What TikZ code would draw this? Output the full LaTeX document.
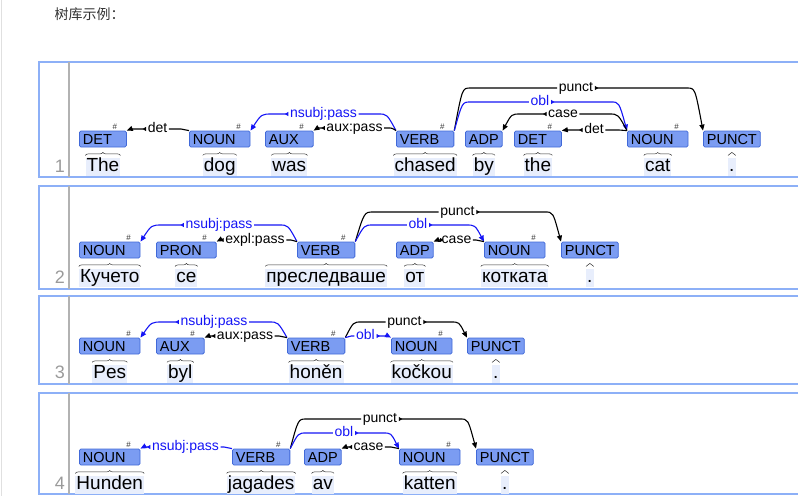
\documentclass[tikz,border=0pt]{standalone}
\usepackage{fontspec}
\setmainfont{Liberation Sans}
\newfontfamily\cjk{Noto Sans CJK SC}
\usetikzlibrary{positioning,arrows.meta,decorations.pathreplacing}
\definecolor{tagfill}{HTML}{7B9CF2}
\definecolor{tagline}{HTML}{4169D8}
\definecolor{wordbg}{HTML}{E8EEFC}
\definecolor{arcblue}{HTML}{1515F5}
\definecolor{panelblue}{HTML}{8DB0F7}
\definecolor{numgray}{HTML}{9A9A9A}

\begin{document}
\begin{tikzpicture}[x=1pt,y=-1pt,
  brat/.style={to path={.. controls ([xshift=#1]\tikztostart |- \tikztotarget) .. ([xshift=2*#1]\tikztostart |- \tikztotarget) -- (\tikztotarget)}}]
\tikzstyle{tag}=[draw=tagline,fill=tagfill,rounded corners=1.5pt,line width=0.8pt,anchor=west,
  font=\fontsize{14.5}{14.5}\selectfont,inner xsep=3.5pt,inner ysep=0pt,minimum height=16pt,text height=10.5pt,text depth=0pt]
\tikzstyle{hashl}=[anchor=center,xshift=-12pt,yshift=4pt,inner sep=0pt,text=black!80,font=\fontsize{8}{8}\selectfont]
\tikzstyle{tagh}=[tag,execute at end node={\hspace*{11pt}},label={[hashl]north east:\#}]
\tikzstyle{word}=[fill=wordbg,inner xsep=1pt,inner ysep=0.5pt,text height=13.5pt,text depth=4pt,font=\fontsize{19}{19}\selectfont]
\tikzstyle{brc}=[decorate,decoration={brace,amplitude=3pt},line width=0.5pt,black!80]
\tikzstyle{rel}=[line width=1.1pt,black]
\tikzstyle{relb}=[rel,arcblue]
\tikzstyle{dep}=[{Triangle[length=6pt,width=5pt]}-{Triangle[reversed,length=3.5pt,width=4pt]}]
\tikzstyle{lab}=[font=\fontsize{14}{14}\selectfont,inner xsep=1.5pt,inner ysep=0pt,text height=10pt,text depth=3pt]
\tikzstyle{labb}=[lab,text=arcblue]
\tikzstyle{panel}=[panelblue,line width=1.2pt]
\tikzstyle{numsep}=[black!30,line width=1.5pt]
\tikzstyle{num}=[text=numgray,font=\fontsize{18}{18}\selectfont]
\useasboundingbox (0,0) rectangle (812,496);
\draw[black!12,line width=1pt] (1,0) -- (1,496);
\node[anchor=west,font=\cjk\fontsize{14}{14}\selectfont,text=black!80] (ttl) at (51,14) {树库示例：};

% sentence 1
\draw[panel] (798,62) -- (39,62) -- (39,177) -- (798,177);
\draw[numsep] (69,62) -- (69,177);
\node[num] (k1) at (60,166) {1};
\node[tagh] (d1) at (79,139) {DET};
\node[tagh] (n1) at (189,139) {NOUN};
\node[tagh] (x1) at (265,139) {AUX};
\node[tagh] (v1) at (396,139) {VERB};
\node[tag] (p1) at (465,139) {ADP};
\node[tagh] (d2) at (514,139) {DET};
\node[tagh] (n2) at (627,139) {NOUN};
\node[tag] (u1) at (703,139) {PUNCT};
\node[word,below=10pt of d1] (wd1) {The};
\node[word,below=10pt of n1] (wn1) {dog};
\node[word,below=10pt of x1] (wx1) {was};
\node[word,below=10pt of v1] (wv1) {chased};
\node[word,below=10pt of p1] (wp1) {by};
\node[word,below=10pt of d2] (wd2) {the};
\node[word,below=10pt of n2] (wn2) {cat};
\node[word,below=10pt of u1] (wu1) {.};
\node[lab] (l1a) at (157.5,129) {det};
\draw[rel] (n1.north west) to[brat=-4] (l1a.east);
\draw[rel,dep] (d1.north east) to[brat=4] (l1a.west);
\node[labb] (l1b) at (323.5,114) {nsubj:pass};
\draw[relb] (v1.north west) to[brat=-9] (l1b.east);
\draw[relb,dep] (n1.north east) to[brat=11] (l1b.west);
\node[lab] (l1c) at (354.5,128) {aux:pass};
\draw[rel] (v1.north west) to[brat=-4] (l1c.east);
\draw[rel,dep] (x1.north east) to[brat=4] (l1c.west);
\node[lab] (l1d) at (576,88) {punct};
\draw[rel] (v1.north east) to[brat=8] (l1d.west);
\draw[rel,dep] (u1.north west) to[brat=-8] (l1d.east);
\node[labb] (l1e) at (540,102) {obl};
\draw[relb] (v1.north east) to[brat=8] (l1e.west);
\draw[relb,dep] (n2.north west) to[brat=-8] (l1e.east);
\node[lab] (l1f) at (563,114) {case};
\draw[rel] (n2.north west) to[brat=-9] (l1f.east);
\draw[rel,dep] (p1.north east) to[brat=9] (l1f.west);
\node[lab] (l1g) at (594,130) {det};
\draw[rel] (n2.north west) to[brat=-4] (l1g.east);
\draw[rel,dep] (d2.north east) to[brat=4] (l1g.west);

% sentence 2
\draw[panel] (798,186) -- (39,186) -- (39,289) -- (798,289);
\draw[numsep] (69,186) -- (69,289);
\node[num] (k2) at (60,277) {2};
\node[tagh] (n3) at (79,250) {NOUN};
\node[tagh] (pr) at (156,250) {PRON};
\node[tagh] (v2) at (297,250) {VERB};
\node[tag] (p2) at (396,250) {ADP};
\node[tagh] (n4) at (484,250) {NOUN};
\node[tag] (u2) at (561,250) {PUNCT};
\node[word,below=10pt of n3] (wn3) {Кучето};
\node[word,below=10pt of pr] (wpr) {се};
\node[word,below=10pt of v2] (wv2) {преследваше};
\node[word,below=10pt of p2] (wp2) {от};
\node[word,below=10pt of n4] (wn4) {котката};
\node[word,below=10pt of u2] (wu2) {.};
\node[labb] (l2a) at (219,225) {nsubj:pass};
\draw[relb] (v2.north west) to[brat=-9] (l2a.east);
\draw[relb,dep] (n3.north east) to[brat=11] (l2a.west);
\node[lab] (l2b) at (255,240) {expl:pass};
\draw[rel] (v2.north west) to[brat=-3] (l2b.east);
\draw[rel,dep] (pr.north east) to[brat=3] (l2b.west);
\node[lab] (l2c) at (457.5,212) {punct};
\draw[rel] (v2.north east) to[brat=9] (l2c.west);
\draw[rel,dep] (u2.north west) to[brat=-8] (l2c.east);
\node[labb] (l2d) at (418,225) {obl};
\draw[relb] (v2.north east) to[brat=9] (l2d.west);
\draw[relb,dep] (n4.north west) to[brat=-9] (l2d.east);
\node[lab] (l2e) at (456.5,240) {case};
\draw[rel] (n4.north west) to[brat=-4] (l2e.east);
\draw[rel,dep] (p2.north east) to[brat=4] (l2e.west);

% sentence 3
\draw[panel] (798,296) -- (39,296) -- (39,384) -- (798,384);
\draw[numsep] (69,296) -- (69,384);
\node[num] (k3) at (60,372) {3};
\node[tagh] (n5) at (79,346) {NOUN};
\node[tagh] (x2) at (156,346) {AUX};
\node[tagh] (v3) at (287,346) {VERB};
\node[tagh] (n6) at (391,346) {NOUN};
\node[tag] (u3) at (467,346) {PUNCT};
\node[word,below=10pt of n5] (wn5) {Pes};
\node[word,below=10pt of x2] (wx2) {byl};
\node[word,below=10pt of v3] (wv3) {honěn};
\node[word,below=10pt of n6] (wn6) {kočkou};
\node[word,below=10pt of u3] (wu3) {.};
\node[labb] (l3a) at (214,322) {nsubj:pass};
\draw[relb] (v3.north west) to[brat=-9] (l3a.east);
\draw[relb,dep] (n5.north east) to[brat=11] (l3a.west);
\node[lab] (l3b) at (245,336) {aux:pass};
\draw[rel] (v3.north west) to[brat=-4] (l3b.east);
\draw[rel,dep] (x2.north east) to[brat=4] (l3b.west);
\node[lab] (l3c) at (404.5,322) {punct};
\draw[rel] (v3.north east) to[brat=8] (l3c.west);
\draw[rel,dep] (u3.north west) to[brat=-8] (l3c.east);
\node[labb] (l3d) at (365.5,336) {obl};
\draw[relb] (v3.north east) to[brat=3] (l3d.west);
\draw[relb,dep] (n6.north west) to[brat=-3] (l3d.east);

% sentence 4
\draw[panel] (798,393) -- (39,393) -- (39,494) -- (798,494);
\draw[numsep] (69,393) -- (69,494);
\node[num] (k4) at (60,483) {4};
\node[tagh] (n7) at (79,457) {NOUN};
\node[tagh] (v4) at (232,457) {VERB};
\node[tag] (p3) at (304,457) {ADP};
\node[tagh] (n8) at (399,457) {NOUN};
\node[tag] (u4) at (476,457) {PUNCT};
\node[word,below=10pt of n7] (wn7) {Hunden};
\node[word,below=10pt of v4] (wv4) {jagades};
\node[word,below=10pt of p3] (wp3) {av};
\node[word,below=10pt of n8] (wn8) {katten};
\node[word,below=10pt of u4] (wu4) {.};
\node[labb] (l4a) at (185.5,447) {nsubj:pass};
\draw[relb] (v4.north west) to[brat=-4] (l4a.east);
\draw[relb,dep] (n7.north east) to[brat=3] (l4a.west);
\node[lab] (l4b) at (380,419) {punct};
\draw[rel] (v4.north east) to[brat=8] (l4b.west);
\draw[rel,dep] (u4.north west) to[brat=-8] (l4b.east);
\node[labb] (l4c) at (344,433) {obl};
\draw[relb] (v4.north east) to[brat=8] (l4c.west);
\draw[relb,dep] (n8.north west) to[brat=-8] (l4c.east);
\node[lab] (l4d) at (368.5,447) {case};
\draw[rel] (n8.north west) to[brat=-4] (l4d.east);
\draw[rel,dep] (p3.north east) to[brat=4] (l4d.west);

\foreach \w in {wd1,wn1,wx1,wv1,wp1,wd2,wn2,wu1,wn3,wpr,wv2,wp2,wn4,wu2,wn5,wx2,wv3,wn6,wu3,wn7,wv4,wp3,wn8,wu4}
  \draw[brc] ([yshift=2pt]\w.north west) -- ([yshift=2pt]\w.north east);
\end{tikzpicture}
\end{document}
